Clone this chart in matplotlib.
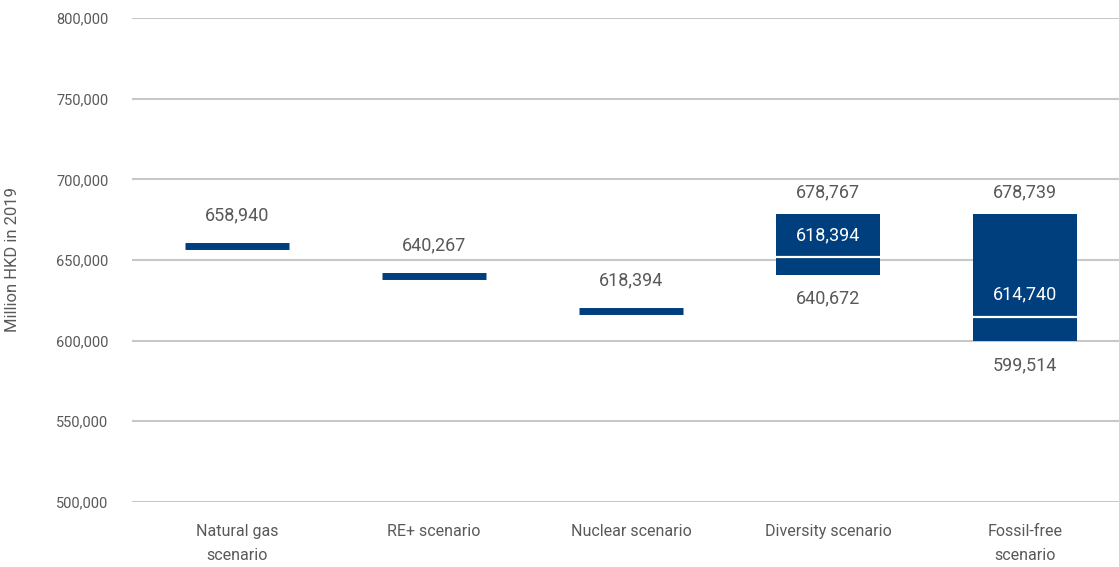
import matplotlib
matplotlib.use("Agg")
import matplotlib.pyplot as plt
import numpy as np

# scenarios with a single value (thin bar)
single_names = ["Natural gas\nscenario", "RE+ scenario", "Nuclear scenario"]
single_values = [658940, 640267, 618394]

# scenarios with a range (box with a middle line)
range_names = ["Diversity scenario", "Fossil-free\nscenario"]
range_low = [640672, 599514]
range_high = [678767, 678739]
range_mid = [651700, 614740]
range_mid_labels = ["618,394", "614,740"]

y_ticks = [500000, 550000, 600000, 650000, 700000, 750000, 800000]

NAVY = "#003f7e"
GREY_TEXT = "#595959"

plt.rcParams["font.family"] = ["Roboto", "DejaVu Sans"]

fig = plt.figure(figsize=(11.19, 5.67), dpi=100)
# right edge runs a little past the figure, as in the original layout
ax = fig.add_axes([132 / 1119, 0.115, 991.5 / 1119, 0.853])

categories = single_names + range_names
xs = np.arange(len(categories))
half = 0.265
vsize = 13

# thin bars
for x, v in zip(xs[: len(single_names)], single_values):
    ax.hlines(v, x - half, x + half, colors=NAVY, lw=5, zorder=3)
    ax.annotate(f"{v:,}", (x, v), xytext=(0, 22), textcoords="offset points",
                ha="center", va="center", fontsize=vsize, color=GREY_TEXT)

# range boxes
for x, lo, hi, mid, lab in zip(xs[len(single_names):], range_low, range_high,
                               range_mid, range_mid_labels):
    ax.bar(x, hi - lo, bottom=lo, width=2 * half, color=NAVY, zorder=3)
    ax.hlines(mid, x - half, x + half, colors="white", lw=1.6, zorder=4)
    ax.annotate(f"{hi:,}", (x, hi), xytext=(0, 15), textcoords="offset points",
                ha="center", va="center", fontsize=vsize, color=GREY_TEXT)
    ax.annotate(f"{lo:,}", (x, lo), xytext=(0, -17), textcoords="offset points",
                ha="center", va="center", fontsize=vsize, color=GREY_TEXT)
    ax.annotate(lab, (x, mid), xytext=(0, 16), textcoords="offset points",
                ha="center", va="center", fontsize=vsize, color="white", zorder=5)

ax.set_xlim(-0.533, len(categories) - 0.5)
ax.set_ylim(y_ticks[0], y_ticks[-1])
ax.set_yticks(y_ticks)
ax.set_yticklabels([f"{t:,}" for t in y_ticks], fontsize=10.5)
ax.set_xticks(xs)
ax.set_xticklabels(categories, linespacing=1.75, fontsize=11.5)
ax.tick_params(axis="both", length=0, labelcolor=GREY_TEXT)
ax.tick_params(axis="y", pad=17)
ax.tick_params(axis="x", pad=16)
ax.set_ylabel("Million HKD in 2019", fontsize=12, color=GREY_TEXT)
ax.yaxis.set_label_coords(-112 / 991.5, 0.5)

ax.grid(axis="y", color="#c8c8c8", lw=1.5, zorder=0)
ax.set_axisbelow(True)
for s in ax.spines.values():
    s.set_visible(False)

fig.savefig("out.png", dpi=100)
